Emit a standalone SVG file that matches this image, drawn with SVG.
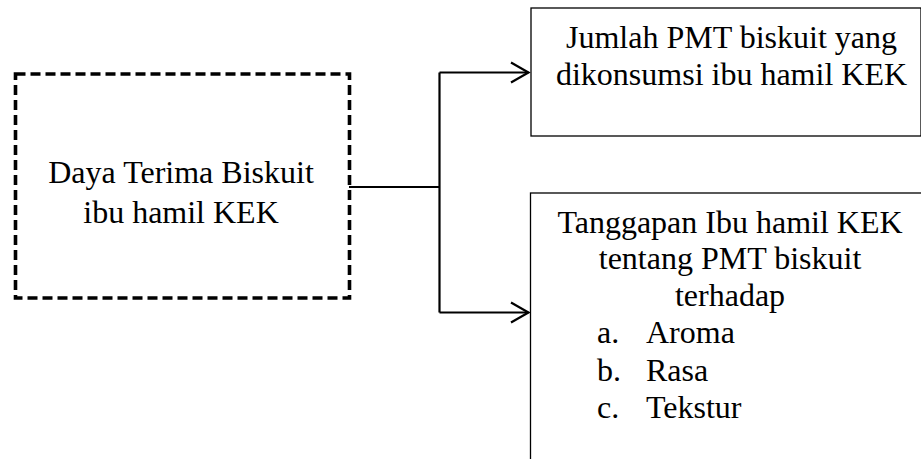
<svg xmlns="http://www.w3.org/2000/svg" width="921" height="459" viewBox="0 0 921 459">
<style>
text{font-family:"Liberation Serif","Times New Roman",Times,serif;font-size:32px;fill:#000}
.c{text-anchor:middle}
.box{fill:none;stroke:#000;stroke-width:1.3}
.conn{fill:none;stroke:#000;stroke-width:2.2}
</style>
<rect width="921" height="459" fill="#fff"/>
<g id="node-daya">
<rect x="15.5" y="74" width="334" height="224" fill="none" stroke="#000" stroke-width="3.6" stroke-dasharray="10,5"/>
<text class="c" x="181" y="183">Daya Terima Biskuit</text>
<text class="c" x="181" y="222.5">ibu hamil KEK</text>
</g>
<g id="node-jumlah">
<rect class="box" x="531" y="8" width="390" height="128"/>
<text class="c" x="731.5" y="47.5">Jumlah PMT biskuit yang</text>
<text class="c" x="731.5" y="85">dikonsumsi ibu hamil KEK</text>
</g>
<g id="node-tanggapan">
<rect class="box" x="530.5" y="193" width="392" height="280"/>
<text class="c" x="730" y="232.5">Tanggapan Ibu hamil KEK</text>
<text class="c" x="730" y="269">tentang PMT biskuit</text>
<text class="c" x="730" y="305.5">terhadap</text>
<text x="597" y="343">a.</text><text x="646" y="343">Aroma</text>
<text x="597" y="380.5">b.</text><text x="646" y="380.5">Rasa</text>
<text x="597" y="417.5">c.</text><text x="646" y="417.5">Tekstur</text>
</g>
<g id="connectors">
<path class="conn" d="M349 187H439.5M439.5 72.5V312.5M439.5 72.5H528.5M439.5 312.5H528.5"/>
<path class="conn" d="M511 62.5L528.5 72.5L511 82.5M511 302.5L528.5 312.5L511 322.5"/>
</g>
</svg>
